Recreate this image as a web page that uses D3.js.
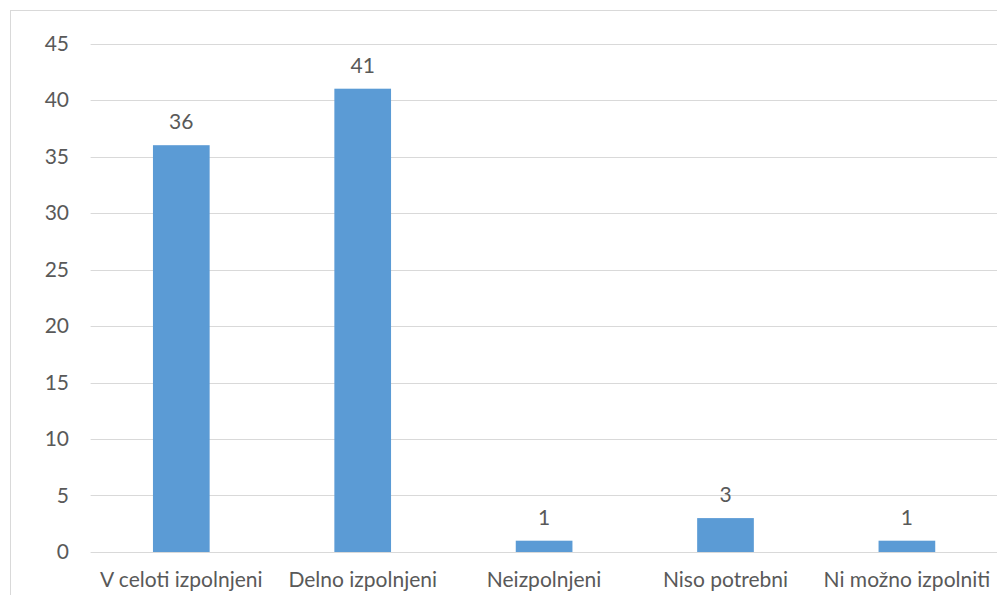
<!DOCTYPE html>
<html><head><meta charset="utf-8">
<script src="https://cdn.jsdelivr.net/npm/d3@7"></script>
<style>body{margin:0;background:#fff;overflow:hidden}svg{display:block}</style>
</head><body>
<script>
const categories = ["V celoti izpolnjeni","Delno izpolnjeni","Neizpolnjeni","Niso potrebni","Ni možno izpolniti"];
const values = [36,41,1,3,1];
const yTicks = [0,5,10,15,20,25,30,35,40,45];

(function(){
const W = 997, H = 595;
const svg = d3.select("body").append("svg").attr("width",W).attr("height",H);
const font = "Lato, 'Open Sans', sans-serif";
const textColor = "#595959";
const fs = 21;

svg.append("rect").attr("x",10.5).attr("y",10.5).attr("width",1000).attr("height",1000)
  .attr("fill","#fff").attr("stroke","#D9D9D9").attr("stroke-width",1);

const pl = 90.6, pr = 997.6, pt = 43.5, pb = 552;
const y = d3.scaleLinear().domain([0,45]).range([pb, pt]);
const x = d3.scaleBand().domain(categories).range([pl,pr]).paddingInner(0.6875).paddingOuter(0.34375);

const g = svg.append("g");
g.selectAll("line.grid").data(yTicks).join("line").attr("class","grid")
  .attr("x1",pl).attr("x2",pr)
  .attr("y1",d=>Math.round(y(d))+0.5).attr("y2",d=>Math.round(y(d))+0.5)
  .attr("stroke","#D9D9D9").attr("stroke-width",1);

g.selectAll("text.yt").data(yTicks).join("text").attr("class","yt")
  .attr("x",69).attr("y",d=>y(d)).attr("dy","0.35em").attr("text-anchor","end")
  .attr("font-family",font).attr("font-size",fs).attr("fill",textColor).text(d=>d);

g.selectAll("rect.bar").data(values).join("rect").attr("class","bar")
  .attr("x",(d,i)=>x(categories[i])).attr("width",x.bandwidth())
  .attr("y",d=>y(d)).attr("height",d=>y(0)-y(d)).attr("fill","#5B9BD5");

g.selectAll("text.val").data(values).join("text").attr("class","val")
  .attr("x",(d,i)=>x(categories[i])+x.bandwidth()/2).attr("y",d=>y(d)-23.5).attr("dy","0.35em")
  .attr("text-anchor","middle").attr("font-family",font).attr("font-size",fs).attr("fill",textColor).text(d=>d);

g.selectAll("text.cat").data(categories).join("text").attr("class","cat")
  .attr("x",d=>x(d)+x.bandwidth()/2).attr("y",580).attr("dy","0.35em")
  .attr("text-anchor","middle").attr("font-family",font).attr("font-size",fs).attr("fill",textColor).text(d=>d);
})();
</script>
</body></html>
